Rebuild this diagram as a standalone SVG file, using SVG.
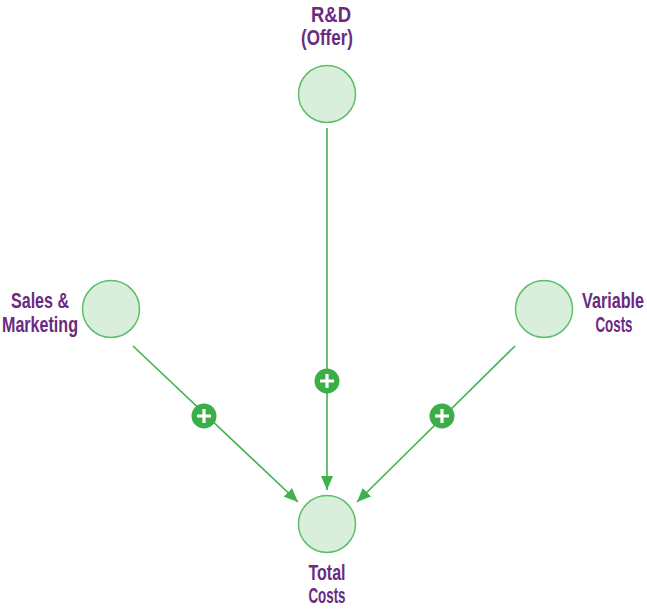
<svg xmlns="http://www.w3.org/2000/svg" width="647" height="613" viewBox="0 0 647 613">
<defs>
<style>
.node{fill:#d9eedb;stroke:#5cbf67;stroke-width:1.5}
.lbl{font-family:"Liberation Sans",Arial,sans-serif;font-weight:bold;font-size:22px;fill:#6a2a82;text-anchor:middle}
.edge{stroke:#3fb14d;stroke-width:1.6;fill:none}
.badge{fill:#3cae48}
.plus{stroke:#fff;stroke-width:3.2;stroke-linecap:butt}
</style>
<marker id="arrow" viewBox="0 0 14 12" refX="14" refY="6" markerWidth="14" markerHeight="12" markerUnits="userSpaceOnUse" orient="auto">
<path d="M0,0 L14,6 L0,12 z" fill="#3fb14d"/>
</marker>
</defs>
<g id="connectors">
<line class="edge" x1="327" y1="128" x2="327" y2="490" marker-end="url(#arrow)"/>
<line class="edge" x1="133" y1="346" x2="298" y2="502" marker-end="url(#arrow)"/>
<line class="edge" x1="515" y1="346" x2="357" y2="502" marker-end="url(#arrow)"/>
<g id="badge-rd"><circle class="badge" cx="327" cy="381" r="12.5"/><path class="plus" d="M320,381 H334 M327,374 V388"/></g>
<g id="badge-sales"><circle class="badge" cx="204" cy="416" r="12.5"/><path class="plus" d="M197,416 H211 M204,409 V423"/></g>
<g id="badge-var"><circle class="badge" cx="442" cy="416" r="12.5"/><path class="plus" d="M435,416 H449 M442,409 V423"/></g>
</g>
<g id="rd">
<circle class="node" cx="327" cy="94" r="28.5"/>
<text class="lbl" x="331" y="22" textLength="40" lengthAdjust="spacingAndGlyphs">R&amp;D</text>
<text class="lbl" x="327" y="45" textLength="52" lengthAdjust="spacingAndGlyphs">(Offer)</text>
</g>
<g id="sales">
<circle class="node" cx="111" cy="309" r="28.5"/>
<text class="lbl" x="40" y="308" textLength="58" lengthAdjust="spacingAndGlyphs">Sales &amp;</text>
<text class="lbl" x="40" y="332" textLength="76" lengthAdjust="spacingAndGlyphs">Marketing</text>
</g>
<g id="variable">
<circle class="node" cx="544" cy="309" r="28.5"/>
<text class="lbl" x="613" y="308" textLength="62" lengthAdjust="spacingAndGlyphs">Variable</text>
<text class="lbl" x="614" y="332" textLength="37" lengthAdjust="spacingAndGlyphs">Costs</text>
</g>
<g id="total">
<circle class="node" cx="327" cy="524" r="28.5"/>
<text class="lbl" x="327" y="580" textLength="37" lengthAdjust="spacingAndGlyphs">Total</text>
<text class="lbl" x="327" y="603" textLength="37" lengthAdjust="spacingAndGlyphs">Costs</text>
</g>
</svg>
